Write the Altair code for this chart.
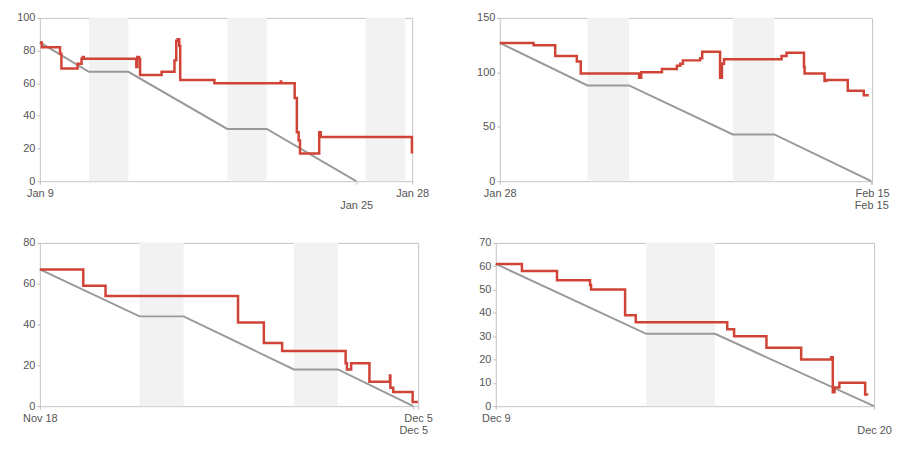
import altair as alt
import pandas as pd

# ---------------- Panel 1: Jan 9 – Jan 25 (2013) ----------------
p1_start = "2013-01-09 12:30"
p1_end = "2013-01-28 08:30"
p1_ideal_end = "2013-01-25 12:30"
p1_red_days = [0, 0.1, 1.02, 1.09, 1.91, 2.11, 2.17, 2.22, 4.88, 4.93, 5.01, 5.07,
               6.16, 6.81, 6.9, 6.97, 7.05, 7.1, 8.83, 12.19, 12.21, 12.89, 13.0,
               13.09, 13.16, 14.13, 14.21, 18.82]
p1_red_vals = [85, 82, 78, 69, 72, 75, 76, 75, 70, 76, 75, 65,
               67, 74, 86, 87, 83, 62, 60, 61, 60, 51, 30,
               25, 17, 30, 27, 17]
p1_ideal_times = [p1_start, "2013-01-12 00:00", "2013-01-14 00:00", "2013-01-19 00:00",
                  "2013-01-21 00:00", p1_ideal_end]
p1_ideal_vals = [85, 67, 67, 32, 32, 0]
p1_we_start = ["2013-01-12 00:00", "2013-01-19 00:00", "2013-01-26 00:00"]
p1_we_end = ["2013-01-14 00:00", "2013-01-21 00:00", "2013-01-28 00:00"]
p1_yticks = [0, 20, 40, 60, 80, 100]

# ---------------- Panel 2: Jan 28 – Feb 15 (2013) ----------------
p2_start = "2013-01-28 18:40"
p2_end = "2013-02-15 17:00"
p2_ideal_end = "2013-02-15 16:00"
p2_red_days = [0, 1.63, 2.67, 3.71, 3.9, 6.71, 6.81, 7.81, 8.53, 8.69, 8.82, 9.65,
               9.75, 10.61, 10.7, 10.8, 13.57, 13.81, 14.65, 14.68, 15.64, 15.72,
               16.76, 17.53, 17.77]
p2_red_vals = [127, 125, 115, 110, 99, 95, 100, 103, 106, 108, 111, 113,
               119, 95, 108, 112, 115, 118, 105, 99, 92, 93,
               83, 79, 79]
p2_ideal_times = [p2_start, "2013-02-02 00:00", "2013-02-04 00:00", "2013-02-09 00:00",
                  "2013-02-11 00:00", p2_ideal_end]
p2_ideal_vals = [127, 88, 88, 43, 43, 0]
p2_we_start = ["2013-02-02 00:00", "2013-02-09 00:00"]
p2_we_end = ["2013-02-04 00:00", "2013-02-11 00:00"]
p2_yticks = [0, 50, 100, 150]

# ---------------- Panel 3: Nov 18 – Dec 5 (2013) ----------------
p3_start = "2013-11-18 11:30"
p3_end = "2013-12-05 15:20"
p3_ideal_end = "2013-12-05 10:00"
p3_red_days = [0, 1.97, 2.98, 8.99, 10.16, 10.99, 13.87, 13.93, 14.12, 14.95,
               15.88, 15.9, 16.03, 16.91, 17.15]
p3_red_vals = [67, 59, 54, 41, 31, 27, 21, 18, 21, 12,
               15, 9, 7, 2, 2]
p3_ideal_times = [p3_start, "2013-11-23 00:00", "2013-11-25 00:00", "2013-11-30 00:00",
                  "2013-12-02 00:00", p3_ideal_end]
p3_ideal_vals = [67, 44, 44, 18, 18, 0]
p3_we_start = ["2013-11-23 00:00", "2013-11-30 00:00"]
p3_we_end = ["2013-11-25 00:00", "2013-12-02 00:00"]
p3_yticks = [0, 20, 40, 60, 80]

# ---------------- Panel 4: Dec 9 – Dec 20 (2013) ----------------
p4_start = "2013-12-09 15:00"
p4_end = "2013-12-20 15:00"
p4_ideal_end = "2013-12-20 15:00"
p4_red_days = [0, 0.76, 1.78, 2.74, 2.77, 3.76, 4.07, 6.73, 6.93, 7.87, 8.88,
               9.75, 9.8, 9.85, 9.99, 10.74, 10.83]
p4_red_vals = [61, 58, 54, 52, 50, 39, 36, 33, 30, 25, 20,
               21, 6, 8, 10, 5, 5]
p4_ideal_times = [p4_start, "2013-12-14 00:00", "2013-12-16 00:00", p4_ideal_end]
p4_ideal_vals = [61, 31, 31, 0]
p4_we_start = ["2013-12-14 00:00"]
p4_we_end = ["2013-12-16 00:00"]
p4_yticks = [0, 10, 20, 30, 40, 50, 60, 70]

RED = "#d04437"
GREY = "#999999"
BAND = "#f2f2f2"
FONT = "Liberation Sans"


def dt(s):
    ts = pd.Timestamp(s)
    return alt.DateTime(year=ts.year, month=ts.month, date=ts.day,
                        hours=ts.hour, minutes=ts.minute)


def expr_time(s):
    ts = pd.Timestamp(s)
    return f"time(datetime({ts.year},{ts.month - 1},{ts.day},{ts.hour},{ts.minute}))"


def iso(series):
    s = pd.to_datetime(pd.Series(series), format="mixed")
    return s.dt.round("min").dt.strftime("%Y-%m-%dT%H:%M:%S")


def panel(start, end, ideal_end, red_days, red_vals, ideal_times, ideal_vals,
          we_start, we_end, yticks, xticks, width, height):
    t0 = pd.Timestamp(start)
    red = pd.DataFrame({
        "t": iso(t0 + pd.to_timedelta(red_days, unit="D")),
        "v": red_vals,
    })
    ideal = pd.DataFrame({"t": iso(ideal_times), "v": ideal_vals})
    bands = pd.DataFrame({"s": iso(we_start), "e": iso(we_end)})

    xscale = alt.Scale(domain=[dt(start), dt(end)])
    xaxis = alt.Axis(
        values=[dt(x) for x in xticks],
        format="%b %-d",
        labelFlush=False,
        labelOverlap=False,
        labelPadding={"condition": {"test": f"time(datum.value) == {expr_time(ideal_end)}",
                                    "value": 15},
                      "value": 3},
        title=None,
    )
    yscale = alt.Scale(domain=[0, max(yticks)], nice=False)
    yaxis = alt.Axis(values=yticks, title=None, labelPadding=2)

    band_layer = alt.Chart(bands).mark_rect(color=BAND).encode(
        x=alt.X("s:T", scale=xscale, axis=xaxis),
        x2="e:T",
    )
    ideal_layer = alt.Chart(ideal).mark_line(color=GREY, strokeWidth=2).encode(
        x=alt.X("t:T", scale=xscale, axis=xaxis),
        y=alt.Y("v:Q", scale=yscale, axis=yaxis),
    )
    red_layer = alt.Chart(red).mark_line(color=RED, strokeWidth=2.5,
                                         interpolate="step-after").encode(
        x=alt.X("t:T", scale=xscale, axis=xaxis),
        y=alt.Y("v:Q", scale=yscale, axis=yaxis),
    )
    return alt.layer(band_layer, ideal_layer, red_layer).properties(width=width, height=height)


c1 = panel(p1_start, p1_end, p1_ideal_end, p1_red_days, p1_red_vals, p1_ideal_times,
           p1_ideal_vals, p1_we_start, p1_we_end, p1_yticks,
           [p1_start, p1_end, p1_ideal_end], 374, 164)
c2 = panel(p2_start, p2_end, p2_ideal_end, p2_red_days, p2_red_vals, p2_ideal_times,
           p2_ideal_vals, p2_we_start, p2_we_end, p2_yticks,
           [p2_start, p2_end, p2_ideal_end], 374, 164)
c3 = panel(p3_start, p3_end, p3_ideal_end, p3_red_days, p3_red_vals, p3_ideal_times,
           p3_ideal_vals, p3_we_start, p3_we_end, p3_yticks,
           [p3_start, p3_end, p3_ideal_end], 380, 164)
c4 = panel(p4_start, p4_end, p4_ideal_end, p4_red_days, p4_red_vals, p4_ideal_times,
           p4_ideal_vals, p4_we_start, p4_we_end, p4_yticks,
           [p4_start, p4_ideal_end], 380, 164)

row1 = alt.hconcat(c1, c2, spacing=88, bounds="flush")
row2 = alt.hconcat(c3, c4, spacing=78, bounds="flush")

chart = alt.vconcat(row1, row2, spacing=25).properties(
    padding={"left": 8, "top": 2, "right": 0, "bottom": 0},
).configure_view(
    stroke="#c4c4c4", strokeWidth=1,
).configure_axis(
    domain=False, grid=False, tickColor="#bbbbbb", tickSize=3,
    labelColor="#555555", labelFont=FONT, labelFontSize=11,
)

chart.save("out.html", embed_options={"renderer": "svg", "actions": False})
